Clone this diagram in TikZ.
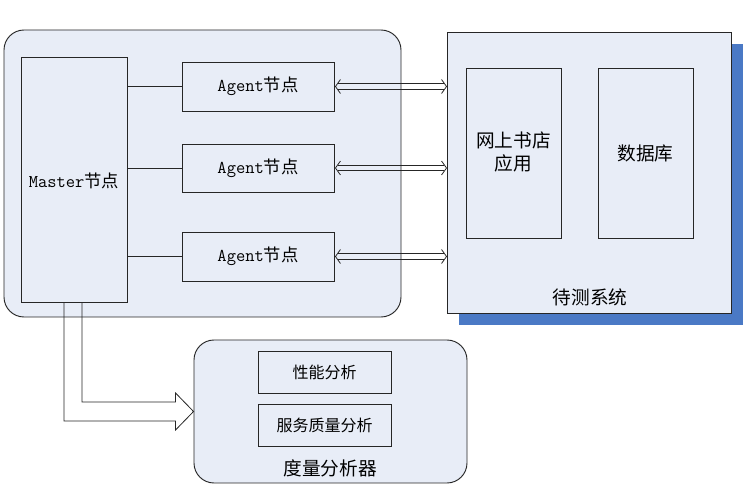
\documentclass[tikz,border=0pt]{standalone}
\usepackage{fontspec}
\newfontfamily\cjk{Noto Sans CJK SC}
\usetikzlibrary{calc}
\definecolor{boxfill}{HTML}{E8EDF7}
\definecolor{shadowblue}{HTML}{4A79C5}
\definecolor{edge}{HTML}{262626}
\begin{document}
\begin{tikzpicture}[x=0.75pt,y=-0.75pt,
  box/.style={draw=edge,fill=boxfill,line width=0.7pt,inner sep=0pt},
  roundbox/.style={box,rounded corners=15pt},
  lbl/.style={font=\ttfamily\fontsize{13.5}{16}\selectfont,align=center,inner sep=0pt},
  conn/.style={draw=edge,line width=0.7pt},
  hollow/.style={draw=edge,line width=0.6pt,line join=miter}
]
\path[use as bounding box,fill=white] (0,0) rectangle (751,491);
% left group
\node[roundbox,minimum width=397*0.75pt,minimum height=287*0.75pt] (grp) at (202.5,173.5) {};
\node[box,minimum width=106*0.75pt,minimum height=245*0.75pt] (master) at (74,179.5) {};
\node[lbl] at (74,181) {Master{\cjk\fontsize{13}{15}\selectfont 节点}};
\node[box,minimum width=152*0.75pt,minimum height=49*0.75pt] (a1) at (258,86.5) {};
\node[box,minimum width=152*0.75pt,minimum height=48*0.75pt] (a2) at (258,168) {};
\node[box,minimum width=152*0.75pt,minimum height=49*0.75pt] (a3) at (258,256.5) {};
\foreach \a in {a1,a2,a3} \node[lbl] at (\a) {Agent{\cjk\fontsize{13}{15}\selectfont 节点}};
% system under test
\node[fill=shadowblue,minimum width=284*0.75pt,minimum height=281*0.75pt,inner sep=0pt] (shadow) at (601,184.5) {};
\node[box,minimum width=284*0.75pt,minimum height=281*0.75pt] (sys) at (589,172.5) {};
\node[box,minimum width=95*0.75pt,minimum height=170*0.75pt] (app) at (513.5,153) {};
\node[box,minimum width=95*0.75pt,minimum height=170*0.75pt] (db) at (645.5,153) {};
\node[lbl,font=\cjk\fontsize{14}{17}\selectfont] at (513.5,152) {网上书店\\应用};
\node[lbl,font=\cjk\fontsize{14}{17}\selectfont] at (645.5,153) {数据库};
\node[lbl,font=\cjk\fontsize{14}{17}\selectfont] (syslbl) at (590,297) {待测系统};
% measurement analyser
\node[roundbox,minimum width=273*0.75pt,minimum height=143*0.75pt] (meas) at (330.5,411.5) {};
\node[box,minimum width=133*0.75pt,minimum height=42*0.75pt] (perf) at (324.5,372) {};
\node[box,minimum width=133*0.75pt,minimum height=42*0.75pt] (qos) at (324.5,425) {};
\node[lbl,font=\cjk\fontsize{12}{14}\selectfont] at (perf) {性能分析};
\node[lbl,font=\cjk\fontsize{12}{14}\selectfont] at (qos) {服务质量分析};
\node[lbl,font=\cjk\fontsize{14}{17}\selectfont] (measlbl) at (330,468) {度量分析器};
% connectors
\foreach \a in {a1,a2,a3} {
  \draw[conn] (master.east |- \a.west) -- (\a.west);
  \coordinate (L) at ($(\a.east)+(1,0)$);
  \coordinate (R) at (\a.east -| sys.west);
  \draw[hollow] ($(L)+(5,-7)$) -- (L) -- ($(L)+(5,7)$);
  \draw[hollow] ($(R)+(-5,-7)$) -- (R) -- ($(R)+(-5,7)$);
  \draw[hollow] ($(L)+(2.6,-2.7)$) -- ($(R)+(-2.6,-2.7)$);
  \draw[hollow] ($(L)+(2.6,2.7)$) -- ($(R)+(-2.6,2.7)$);
}
\coordinate (tip) at (meas.west);
\draw[hollow] ($(master.south)+(-10,0)$) |- ($(tip)+(-18,9.5)$) -- ($(tip)+(-18,18.5)$) -- (tip)
  -- ($(tip)+(-18,-18.5)$) -- ($(tip)+(-18,-9.5)$) -| ($(master.south)+(8,0)$);
\end{tikzpicture}
\end{document}
